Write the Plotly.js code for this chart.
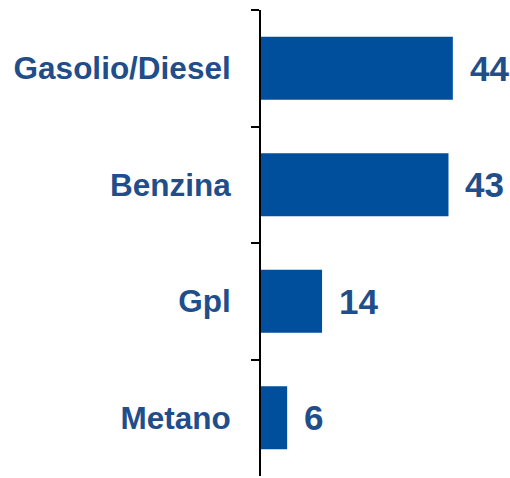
<!DOCTYPE html>
<html>
<head>
<meta charset="utf-8">
<script src="https://cdn.plot.ly/plotly-3.0.1.min.js"></script>
<style>html,body{margin:0;padding:0;background:#fff;}</style>
</head>
<body>
<div id="chart" style="width:510px;height:478px;"></div>
<script>
var categories = ["Gasolio/Diesel", "Benzina", "Gpl", "Metano"];
var values = [44, 43, 14, 6];
var valueLabels = ["44", "43", "14", "6"];

var textColor = "#1f4e8a";
var barColor = "#004f9c";

var trace = {
  type: "bar",
  orientation: "h",
  x: values,
  y: categories,
  marker: {color: barColor},
  hoverinfo: "none"
};

var annotations = categories.map(function (c, i) {
  return {
    x: values[i], y: c, xref: "x", yref: "y",
    text: valueLabels[i], showarrow: false,
    xanchor: "left", yanchor: "middle", xshift: 15,
    font: {family: "Liberation Sans, Arial, sans-serif", size: 35, color: textColor, weight: "bold"}
  };
});

var layout = {
  width: 510, height: 478,
  margin: {l: 261, r: 31, t: 10, b: 2},
  paper_bgcolor: "#fff", plot_bgcolor: "#fff",
  bargap: 0.46,
  showlegend: false,
  xaxis: {range: [0, 50], visible: false, fixedrange: true},
  yaxis: {
    type: "category",
    categoryorder: "array",
    categoryarray: categories,
    autorange: "reversed",
    showline: true, linecolor: "#000", linewidth: 2,
    ticks: "outside", tickson: "boundaries", ticklen: 8, tickwidth: 2, tickcolor: "#000",
    ticklabelstandoff: 22,
    showgrid: false, zeroline: false,
    tickfont: {family: "Liberation Sans, Arial, sans-serif", size: 31.5, color: textColor, weight: "bold"}
  },
  annotations: annotations
};

Plotly.newPlot("chart", [trace], layout, {staticPlot: true, displayModeBar: false});
</script>
</body>
</html>
